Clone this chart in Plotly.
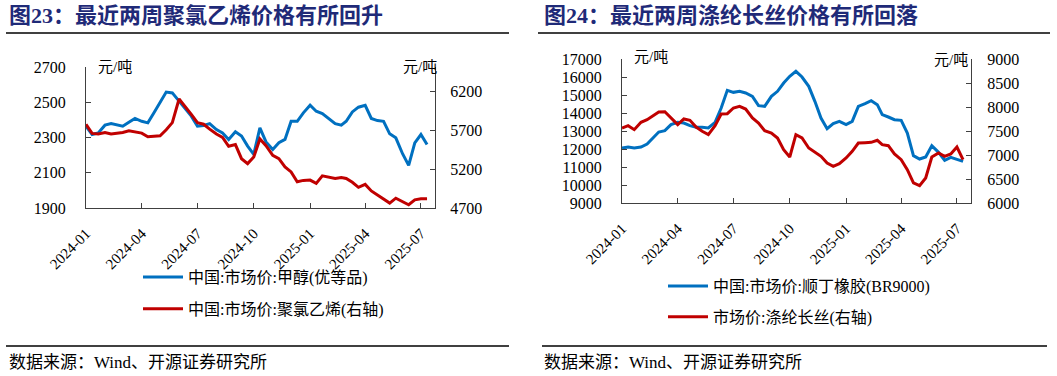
import plotly.graph_objects as go

# ---- dates: three points per month (1st, 11th, 21st) ----
dates = []
for y, m in [(2024, i) for i in range(1, 13)] + [(2025, i) for i in range(1, 7)]:
    for d in (1, 11, 21):
        dates.append(f"{y}-{m:02d}-{d:02d}")
dates += ["2025-07-01", "2025-07-11"]

methanol = [2364, 2317, 2326, 2370, 2379, 2372, 2364, 2387, 2408, 2392,
            2383, 2440, 2496, 2558, 2553, 2506, 2459, 2421, 2364, 2368,
            2379, 2345, 2326, 2289, 2332, 2308, 2251, 2204, 2355, 2275,
            2232, 2270, 2289, 2392, 2392, 2440, 2483, 2449, 2436, 2408,
            2379, 2370, 2392, 2445, 2472, 2483, 2408, 2396, 2392, 2321,
            2298, 2208, 2142, 2270, 2317, 2260]
pvc = [5774, 5656, 5648, 5669, 5648, 5656, 5669, 5690, 5677, 5660,
       5614, 5618, 5627, 5703, 5795, 6098, 6006, 5900, 5795, 5774,
       5711, 5648, 5606, 5492, 5513, 5332, 5269, 5353, 5585, 5500,
       5374, 5332, 5227, 5163, 5037, 5054, 5058, 5016, 5113, 5096,
       5079, 5092, 5079, 5029, 4965, 5003, 4919, 4868, 4818, 4763,
       4826, 4784, 4742, 4805, 4818, 4818]
br9000 = [12056, 12111, 12056, 12111, 12278, 12611, 12944, 13019, 13352, 13481,
          13444, 13296, 13204, 13204, 13167, 13481, 14278, 15259, 15148, 15204,
          15111, 14926, 14407, 14370, 14926, 15204, 15667, 16037, 16315, 16000,
          15481, 14648, 13722, 13130, 13407, 13537, 13352, 13537, 14370, 14519,
          14685, 14463, 13907, 13778, 13630, 13593, 12889, 11630, 11444, 11556,
          12185, 11815, 11370, 11537, 11444, 11315]
filament = [7563, 7611, 7528, 7681, 7736, 7819, 7896, 7903, 7771, 7632,
            7750, 7722, 7583, 7493, 7424, 7611, 7854, 7861, 7979, 8014,
            7958, 7771, 7667, 7507, 7458, 7354, 7111, 6958, 7424, 7354,
            7146, 7056, 6972, 6833, 6764, 6819, 6938, 7076, 7250, 7257,
            7264, 7306, 7215, 7194, 7021, 6903, 6694, 6417, 6361, 6521,
            6958, 7042, 6972, 7021, 7167, 6903]

x_tickvals = ["2024-01-01", "2024-04-01", "2024-07-01", "2024-10-01",
              "2025-01-01", "2025-04-01", "2025-07-01"]
x_ticktext = ["2024-01", "2024-04", "2024-07", "2024-10",
              "2025-01", "2025-04", "2025-07"]

title_left = "图23：最近两周聚氯乙烯价格有所回升"
title_right = "图24：最近两周涤纶长丝价格有所回落"
source_text = "数据来源：Wind、开源证券研究所"
names = ["中国:市场价:甲醇(优等品)", "中国:市场价:聚氯乙烯(右轴)",
         "中国:市场价:顺丁橡胶(BR9000)", "市场价:涤纶长丝(右轴)"]

W, H = 1057, 376
BLUE = "#0070C0"
RED = "#C00000"
NAVY = "#1F2A78"
FONT = "Liberation Serif, Noto Sans CJK SC, serif"
AX = "#404040"


def px(x):
    return x / W


def py(y):
    return 1 - y / H


fig = go.Figure()
fig.add_trace(go.Scatter(x=dates, y=methanol, name=names[0], mode="lines",
                         line=dict(color=BLUE, width=3), xaxis="x", yaxis="y",
                         legend="legend", legendgroup="a"))
fig.add_trace(go.Scatter(x=dates, y=pvc, name=names[1], mode="lines",
                         line=dict(color=RED, width=3), xaxis="x", yaxis="y2",
                         legend="legend", legendgroup="b"))
fig.add_trace(go.Scatter(x=dates, y=br9000, name=names[2], mode="lines",
                         line=dict(color=BLUE, width=3), xaxis="x2", yaxis="y3",
                         legend="legend2", legendgroup="c"))
fig.add_trace(go.Scatter(x=dates, y=filament, name=names[3], mode="lines",
                         line=dict(color=RED, width=3), xaxis="x2", yaxis="y4",
                         legend="legend2", legendgroup="d"))

xr = ["2024-01-01", "2025-07-24"]
xcommon = dict(type="date", range=xr, tickvals=x_tickvals, ticktext=x_ticktext,
               tickangle=-45, ticks="inside", ticklen=5, tickcolor=AX,
               showline=True, linecolor=AX, linewidth=1, showgrid=False,
               zeroline=False, automargin=False, ticklabelstandoff=10,
               tickfont=dict(family=FONT, size=15, color="black"))
ycommon = dict(showline=True, linecolor=AX, linewidth=1, showgrid=False,
               zeroline=False, ticks="inside", ticklen=5, tickcolor=AX,
               automargin=False, tickformat="d",
               tickfont=dict(family=FONT, size=16, color="black"))

L = dict(x0=86, x1=435, y0=67, y1=208)
R = dict(x0=622, x1=971, y0=59, y1=203)

fig.update_layout(
    width=W, height=H, margin=dict(l=0, r=0, t=0, b=0, autoexpand=False),
    paper_bgcolor="white", plot_bgcolor="white", showlegend=True,
    xaxis=dict(domain=[px(L["x0"]), px(L["x1"])], anchor="y", **xcommon),
    yaxis=dict(domain=[py(L["y1"]), py(L["y0"])], anchor="x", range=[1900, 2700],
               tickvals=[1900, 2100, 2300, 2500, 2700], ticklabelstandoff=16,
               **ycommon),
    yaxis2=dict(overlaying="y", side="right", anchor="x", range=[4700, 6508],
                tickvals=[4700, 5200, 5700, 6200], ticklabelstandoff=11, **ycommon),
    xaxis2=dict(domain=[px(R["x0"]), px(R["x1"])], anchor="y3", **xcommon),
    yaxis3=dict(domain=[py(R["y1"]), py(R["y0"])], anchor="x2", range=[9000, 17000],
                dtick=1000, ticklabelstandoff=16, **ycommon),
    yaxis4=dict(overlaying="y3", side="right", anchor="x2", range=[6000, 9000],
                dtick=500, ticklabelstandoff=12, **ycommon),
    legend=dict(x=px(138), y=py(260), xanchor="left", yanchor="top",
                font=dict(family=FONT, size=16, color="black"), itemwidth=40,
                tracegroupgap=8, bgcolor="rgba(0,0,0,0)"),
    legend2=dict(x=px(663), y=py(269), xanchor="left", yanchor="top",
                 font=dict(family=FONT, size=16, color="black"), itemwidth=40,
                 tracegroupgap=7, bgcolor="rgba(0,0,0,0)"),
)

# titles, rules, sources, units
anns = [
    dict(text=f"<b>{title_left}</b>", x=px(7), y=py(16), color=NAVY, size=22),
    dict(text=f"<b>{title_right}</b>", x=px(542), y=py(16), color=NAVY, size=22),
    dict(text=source_text, x=px(7), y=py(362), color="black", size=17),
    dict(text=source_text, x=px(542), y=py(362), color="black", size=17),
    dict(text="元/吨", x=px(96), y=py(67), color="black", size=15),
    dict(text="元/吨", x=px(401), y=py(67), color="black", size=15),
    dict(text="元/吨", x=px(632), y=py(57), color="black", size=15),
    dict(text="元/吨", x=px(932), y=py(60), color="black", size=15),
]
for a in anns:
    fig.add_annotation(text=a["text"], x=a["x"], y=a["y"], xref="paper", yref="paper",
                       xanchor="left", yanchor="middle", showarrow=False,
                       font=dict(family=FONT, size=a["size"], color=a["color"]))

for x0, x1, y in [(6, 509, 33), (538, 1050, 33), (6, 509, 346), (542, 1047, 346)]:
    fig.add_shape(type="line", xref="paper", yref="paper", x0=px(x0), x1=px(x1),
                  y0=py(y), y1=py(y), line=dict(color="black", width=1.5))

fig.write_html("out.html", config={"displayModeBar": False},
               post_script="document.body.style.margin='0';"
                           "document.body.style.overflow='hidden';")
